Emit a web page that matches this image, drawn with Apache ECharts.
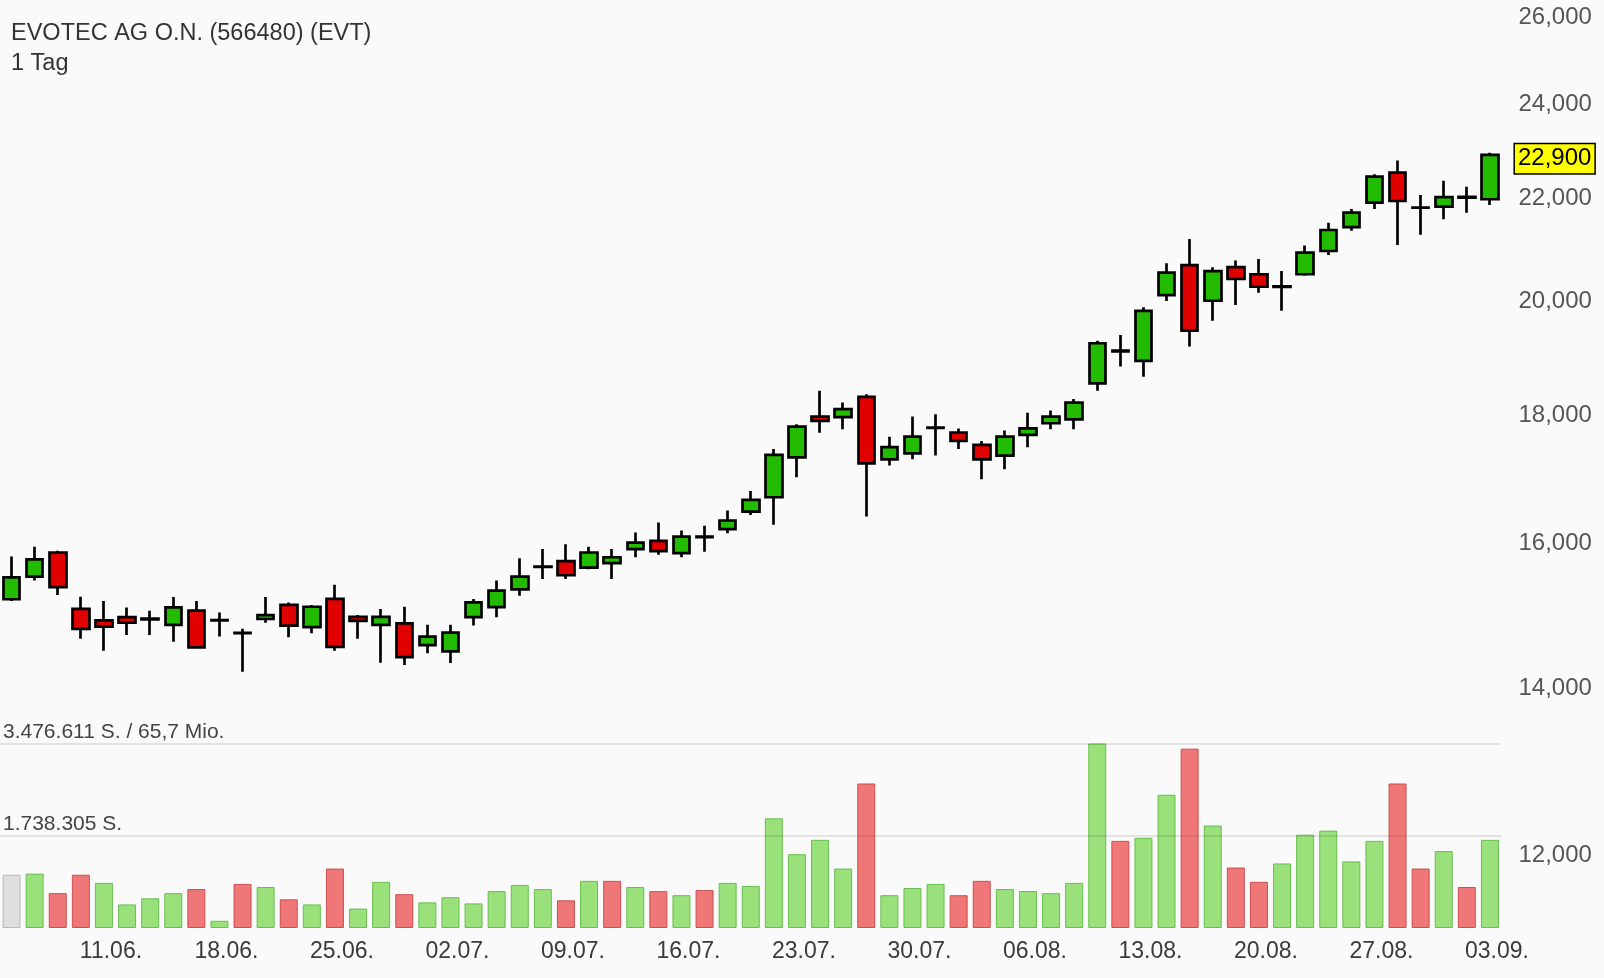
<!DOCTYPE html>
<html><head><meta charset="utf-8">
<script src="https://cdn.jsdelivr.net/npm/echarts@6/dist/echarts.min.js"></script>
<style>html,body{margin:0;padding:0;background:#fafafa;}#c{width:1604px;height:978px;}</style>
</head><body><div id="c"></div>
<script>
const chartTitle = 'EVOTEC AG O.N. (566480) (EVT)';
const chartSubtitle = '1 Tag';
const dates = ['05.06.','06.06.','07.06.','08.06.','11.06.','12.06.','13.06.','14.06.','15.06.','18.06.','19.06.','20.06.','21.06.','22.06.','25.06.','26.06.','27.06.','28.06.','29.06.',
'02.07.','03.07.','04.07.','05.07.','06.07.','09.07.','10.07.','11.07.','12.07.','13.07.','16.07.','17.07.','18.07.','19.07.','20.07.','23.07.','24.07.','25.07.','26.07.','27.07.','30.07.','31.07.',
'01.08.','02.08.','03.08.','06.08.','07.08.','08.08.','09.08.','10.08.','13.08.','14.08.','15.08.','16.08.','17.08.','20.08.','21.08.','22.08.','23.08.','24.08.','27.08.','28.08.','29.08.','30.08.','31.08.',
'03.09.'];
const opens  = [15195,15515,15865,15060,14900,14945,14915,14840,15035,14900,14730,14920,15115,14810,15200,14950,14840,14860,14565,14480,14945,15085,15335,15655,15740,15645,15710,15915,16035,15855,16100,16210,16475,16695,17320,17985,17975,18315,17290,17385,17800,17720,17520,17350,17685,17875,17940,18545,19100,18935,20120,20685,20015,20645,20510,20270,20510,20955,21420,21910,22525,21810,21830,22030,21980];
const highs  = [15805,15950,15890,15230,15170,15080,15035,15225,15170,15010,14785,15225,15150,15115,15400,14975,15060,15090,14840,14840,15200,15460,15780,15915,15985,15950,15915,16160,16310,16190,16260,16490,16790,17455,17860,18420,18220,18360,17655,17985,18025,17790,17585,17755,18050,18085,18280,19290,19390,19895,20720,21190,20645,20770,20800,20570,21060,21510,21785,22495,22780,22065,22360,22235,22945];
const lows   = [15170,15460,15255,14650,14490,14700,14700,14610,14515,14680,14210,14870,14670,14725,14490,14650,14330,14300,14455,14325,14830,14945,15245,15480,15480,15620,15480,15795,15830,15795,15875,16150,16425,16275,17005,17720,17775,16400,17190,17290,17350,17455,16975,17130,17485,17775,17775,18420,18835,18660,20010,19185,19650,19935,20165,19830,20480,20880,21350,21785,21070,21270,21580,21710,21865];
const closes = [15505,15765,15365,14785,14815,14870,14925,15080,14535,14905,14725,14975,14830,15090,14540,14895,14950,14405,14680,14735,15150,15315,15515,15660,15535,15865,15795,16010,15885,16100,16090,16340,16655,17360,17820,17915,18110,17225,17485,17655,17805,17585,17290,17655,17790,17985,18220,19245,19115,19830,20540,19470,20570,20420,20275,20280,20925,21365,21710,22445,21945,21812,22025,22015,22900];
const volumes = [1004000,1023700,656700,1004000,849800,444200,560100,656700,734000,135200,830500,772600,540800,444200,1120200,367000,869200,637400,482900,579400,463500,695300,811200,734000,521500,888500,888500,772600,695300,618100,714600,849800,791900,2066600,1390600,1661000,1120200,2723300,618100,753300,830500,618100,888500,734000,695300,656700,849800,3476611,1641700,1699700,2510900,3380000,1931500,1139600,869200,1216800,1757600,1834900,1255400,1641700,2723300,1120200,1448600,772600,1661000];
const priceTicks = [12000,14000,16000,18000,20000,22000,24000,26000];
const lastPrice = 22900;
const volumeLines = [1738305, 3476611];
const volumeLineLabels = ['1.738.305 S.', '3.476.611 S. / 65,7 Mio.'];

const FONT = '"Liberation Sans", Arial, sans-serif';
const chart = echarts.init(document.getElementById('c'), null, {renderer: 'canvas'});
const fmt = v => Math.round(v).toLocaleString('en-US');

const greenVol = {color: 'rgba(140,220,105,0.88)', borderColor: 'rgba(95,185,70,0.9)', borderWidth: 1};
const redVol = {color: 'rgba(238,100,100,0.88)', borderColor: 'rgba(200,70,70,0.9)', borderWidth: 1};
const greyVol = {color: 'rgba(218,218,218,0.9)', borderColor: 'rgba(180,180,180,0.9)', borderWidth: 1};
const volData = volumes.map((v, i) => ({
  value: v,
  itemStyle: i === 0 ? greyVol : (closes[i] >= closes[i - 1] ? greenVol : redVol)
}));

const option = {
  backgroundColor: '#fafafa',
  animation: false,
  title: {
    text: chartTitle, subtext: chartSubtitle, left: 11, top: 22, itemGap: 6, padding: 0,
    textStyle: {fontFamily: FONT, fontSize: 23.5, fontWeight: 'normal', color: '#333'},
    subtextStyle: {fontFamily: FONT, fontSize: 23.5, color: '#333'}
  },
  grid: [
    {left: -1.5, right: 102.5, top: 0, bottom: 50},
    {left: -1.5, right: 102.5, top: 743.5, bottom: 50}
  ],
  xAxis: [
    {type: 'category', gridIndex: 0, data: dates, boundaryGap: true, show: false},
    {type: 'category', gridIndex: 1, data: dates, boundaryGap: true,
     axisLine: {show: false}, axisTick: {show: false}, splitLine: {show: false},
     axisLabel: {interval: (idx) => idx % 5 === 4, fontFamily: FONT, fontSize: 23, color: '#3a3a3a',
                 margin: 12, padding: [0, 0, 0, 14]}}
  ],
  yAxis: [
    {type: 'log', logBase: 10, gridIndex: 0, position: 'right', min: 11218, max: 26418,
     axisLine: {show: false}, axisTick: {show: false}, splitLine: {show: false},
     axisLabel: {customValues: priceTicks, formatter: fmt, fontFamily: FONT, fontSize: 24,
                 color: '#555', margin: 17, align: 'left', padding: [6, 0, 0, 0]}},
    {type: 'value', gridIndex: 1, min: 0, max: 3476611, show: false, splitLine: {show: false}}
  ],
  series: [
    {
      type: 'candlestick', xAxisIndex: 0, yAxisIndex: 0, barWidth: 17,
      data: dates.map((d, i) => [opens[i], closes[i], lows[i], highs[i]]),
      itemStyle: {color: '#22bb00', color0: '#e00000', borderColor: '#000', borderColor0: '#000',
                  borderColorDoji: '#000', borderWidth: 2.7},
      z: 3,
      markPoint: {
        silent: true, symbol: 'rect', symbolSize: 0, animation: false,
        data: [{coord: [dates[dates.length - 1], lastPrice], value: lastPrice}],
        label: {show: true, position: 'right', distance: 25, offset: [0, 4], formatter: p => fmt(p.value),
                fontFamily: FONT, fontSize: 24, color: '#000', backgroundColor: '#ffff00',
                borderColor: '#000', borderWidth: 1.5, padding: [3, 3, 2, 3]}
      }
    },
    {
      type: 'bar', xAxisIndex: 1, yAxisIndex: 1, barWidth: 18, data: volData, z: 2,
      markLine: {
        silent: true, symbol: 'none',
        lineStyle: {color: 'rgba(0,0,0,0.09)', width: 2, type: 'solid'},
        label: {position: 'insideStartTop', fontFamily: FONT, fontSize: 21, color: '#444', distance: [3, 1],
                formatter: p => volumeLineLabels[volumeLines.indexOf(p.value)]},
        data: volumeLines.map(v => ({yAxis: v}))
      }
    }
  ]
};
chart.setOption(option);
</script>
</body></html>
